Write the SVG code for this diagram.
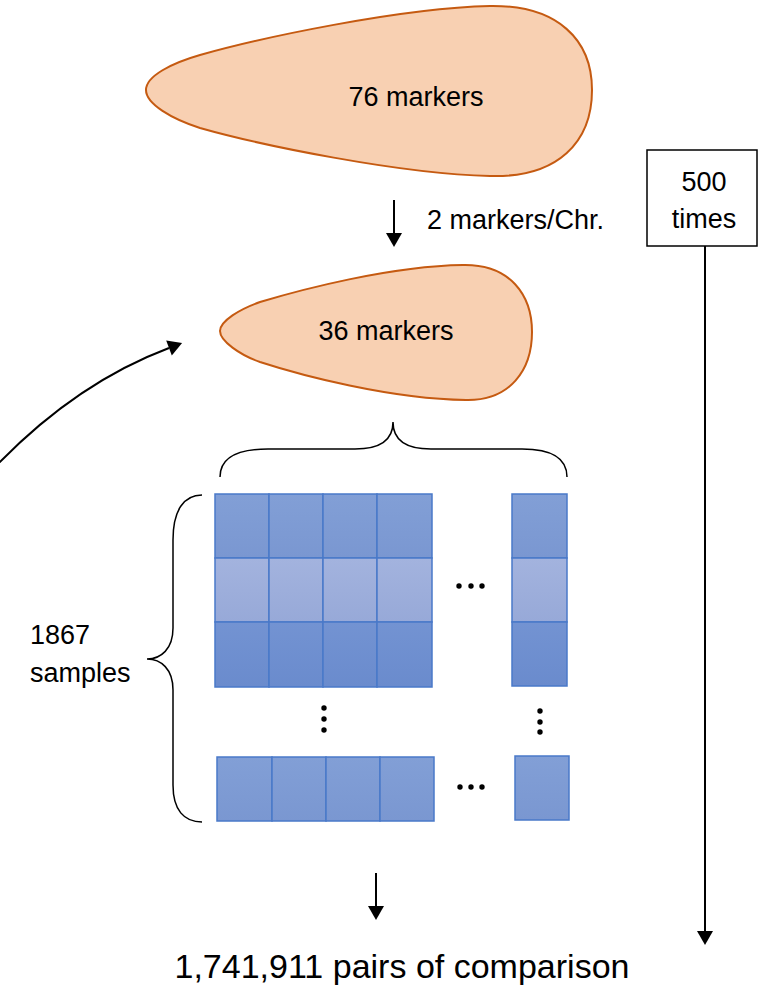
<svg xmlns="http://www.w3.org/2000/svg" width="759" height="1001" viewBox="0 0 759 1001">
<style>
text{font-family:"Liberation Sans",Arial,sans-serif;fill:#000}
.lbl{font-size:27px}
.big{font-size:34px}
.drop{fill:#f8d0b2;stroke:#c55a11;stroke-width:2}
.cellT{fill:url(#gT);stroke:#4a79c9;stroke-width:1.5}
.cellM{fill:url(#gM);stroke:#4a79c9;stroke-width:1.5}
.cellB{fill:url(#gB);stroke:#4a79c9;stroke-width:1.5}
.ln{fill:none;stroke:#000;stroke-width:2}
.br{fill:none;stroke:#000;stroke-width:1.5}
.dot{fill:#000}
</style>
<defs>
<linearGradient id="gT" x1="0" y1="0" x2="0" y2="1"><stop offset="0" stop-color="#829fd6"/><stop offset="1" stop-color="#7a97d1"/></linearGradient>
<linearGradient id="gM" x1="0" y1="0" x2="0" y2="1"><stop offset="0" stop-color="#a3b3de"/><stop offset="1" stop-color="#97a9d8"/></linearGradient>
<linearGradient id="gB" x1="0" y1="0" x2="0" y2="1"><stop offset="0" stop-color="#7393d2"/><stop offset="1" stop-color="#6a8bcd"/></linearGradient>
<marker id="ah" markerUnits="userSpaceOnUse" markerWidth="16" markerHeight="18" refX="0" refY="8" orient="auto" overflow="visible">
<path d="M0,0 L14,8 L0,16 Z" fill="#000"/>
</marker>
</defs>

<g id="node-76">
<path class="drop" d="M146,90 C146,76 172,63 200,55 C260,38 400,8 490,6 C558,5 592,40 592,90 C592,142 558,178 490,176 C400,174 260,145 200,128 C172,119 146,104 146,90 Z"/>
<text class="lbl" x="416" y="106" text-anchor="middle">76 markers</text>
</g>

<g id="node-36">
<path class="drop" d="M220,331 C220,321 240,309 260,302 C300,290 390,266 463,265 C510,264 532,295 532,332 C532,370 510,401 466,400 C390,399 300,375 260,362 C240,355 220,341 220,331 Z"/>
<text class="lbl" x="386" y="340" text-anchor="middle">36 markers</text>
</g>

<g id="label-2markers">
<text class="lbl" x="427" y="229">2 markers/Chr.</text>
</g>

<g id="node-500">
<rect x="647" y="150" width="110" height="96" fill="#fff" stroke="#000" stroke-width="1.5"/>
<text class="lbl" x="704" y="191" text-anchor="middle">500</text>
<text class="lbl" x="704" y="228" text-anchor="middle">times</text>
</g>

<g id="brace-top">
<path class="br" d="M220,477 C220,458 236,449 268,449 L355,449 C380,449 393,440 393,422 C393,440 406,449 431,449 L522,449 C552,449 567,458 567,477"/>
</g>

<g id="matrix">
<rect class="cellT" x="215" y="494" width="54" height="64"/>
<rect class="cellT" x="269" y="494" width="54" height="64"/>
<rect class="cellT" x="323" y="494" width="54" height="64"/>
<rect class="cellT" x="377" y="494" width="55" height="64"/>
<rect class="cellM" x="215" y="558" width="54" height="64"/>
<rect class="cellM" x="269" y="558" width="54" height="64"/>
<rect class="cellM" x="323" y="558" width="54" height="64"/>
<rect class="cellM" x="377" y="558" width="55" height="64"/>
<rect class="cellB" x="215" y="622" width="54" height="65"/>
<rect class="cellB" x="269" y="622" width="54" height="65"/>
<rect class="cellB" x="323" y="622" width="54" height="65"/>
<rect class="cellB" x="377" y="622" width="55" height="65"/>
<rect class="cellT" x="512" y="494" width="55" height="64"/>
<rect class="cellM" x="512" y="558" width="55" height="64"/>
<rect class="cellB" x="512" y="622" width="55" height="64"/>
<circle class="dot" cx="459" cy="586" r="2.7"/>
<circle class="dot" cx="471" cy="586" r="2.7"/>
<circle class="dot" cx="482" cy="586" r="2.7"/>
<circle class="dot" cx="324" cy="708" r="2.7"/>
<circle class="dot" cx="324" cy="719" r="2.7"/>
<circle class="dot" cx="324" cy="730" r="2.7"/>
<circle class="dot" cx="540" cy="711" r="2.7"/>
<circle class="dot" cx="540" cy="722" r="2.7"/>
<circle class="dot" cx="540" cy="732" r="2.7"/>
<rect class="cellT" x="217" y="757" width="55" height="64"/>
<rect class="cellT" x="272" y="757" width="54" height="64"/>
<rect class="cellT" x="326" y="757" width="54" height="64"/>
<rect class="cellT" x="380" y="757" width="54" height="64"/>
<rect class="cellT" x="515" y="756" width="54" height="64"/>
<circle class="dot" cx="460" cy="787" r="2.7"/>
<circle class="dot" cx="471" cy="787" r="2.7"/>
<circle class="dot" cx="482" cy="787" r="2.7"/>
</g>

<g id="brace-left">
<path class="br" d="M202,495 C184,495 173,510 173,540 L173,628 C173,649 161,659 147,659 C161,659 173,669 173,690 L173,785 C173,810 184,822 202,822"/>
</g>

<g id="label-samples">
<text class="lbl" x="30" y="644">1867</text>
<text class="lbl" x="30" y="682">samples</text>
</g>

<g id="label-result">
<text class="big" x="402" y="978" text-anchor="middle" textLength="455" lengthAdjust="spacingAndGlyphs">1,741,911 pairs of comparison</text>
</g>

<g id="connectors">
<line class="ln" x1="394" y1="200" x2="394" y2="233" marker-end="url(#ah)"/>
<line class="ln" x1="705" y1="246" x2="705" y2="931" marker-end="url(#ah)"/>
<line class="ln" x1="376" y1="873" x2="376" y2="906" marker-end="url(#ah)"/>
<path class="ln" d="M-4,466 Q76,383 169,348" marker-end="url(#ah)"/>
</g>
</svg>
